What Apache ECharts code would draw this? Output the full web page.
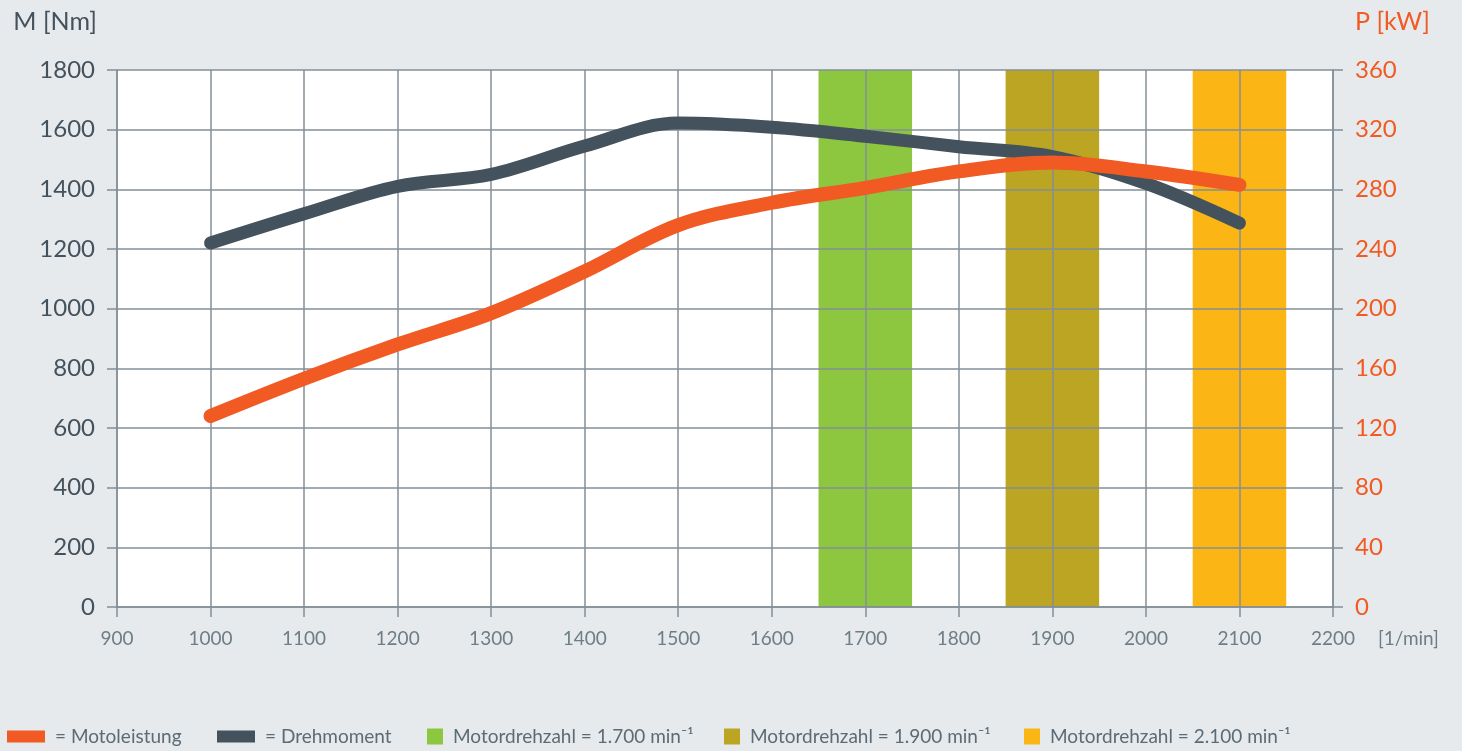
<!DOCTYPE html>
<html>
<head>
<meta charset="utf-8">
<script src="https://cdn.jsdelivr.net/npm/echarts@6/dist/echarts.min.js"></script>
<style>
  html, body { margin: 0; padding: 0; background: #e6eaed; }
  #chart { width: 1462px; height: 751px; }
</style>
</head>
<body>
<div id="chart"></div>
<script>
// engine speed [1/min]
var rpm = [1000, 1100, 1200, 1300, 1400, 1500, 1600, 1700, 1800, 1900, 2000, 2100];
// torque M [Nm]
var torque = [1220, 1318, 1410, 1450, 1545, 1622, 1608, 1578, 1543, 1510, 1420, 1287];
// power P [kW]
var power = [128, 153, 176, 197, 225, 256, 271, 281, 292, 298, 292, 283];
// highlighted speed bands
var bandNames = ['Motordrehzahl = 1.700 min⁻¹', 'Motordrehzahl = 1.900 min⁻¹', 'Motordrehzahl = 2.100 min⁻¹'];
var bandRanges = [[1650, 1750], [1850, 1950], [2050, 2150]];
var bandColors = ['#8dc63f', '#bca523', '#fbb615'];

var gridColor = '#838f97';
var font = 'Lato';
var plain = function (v) { return String(v); };

function pairs(xs, ys) {
    var res = [];
    for (var i = 0; i < xs.length; i++) res.push([xs[i], ys[i]]);
    return res;
}

var series = [];
for (var b = 0; b < bandNames.length; b++) {
    series.push({
        name: bandNames[b],
        type: 'line',
        data: [],
        z: 1,
        color: bandColors[b],
        itemStyle: { color: bandColors[b] },
        markArea: {
            silent: true,
            itemStyle: { color: bandColors[b], opacity: 1 },
            data: [[{ xAxis: bandRanges[b][0] }, { xAxis: bandRanges[b][1] }]]
        }
    });
}
series.push({
    name: 'Drehmoment',
    type: 'line',
    yAxisIndex: 0,
    z: 3,
    smooth: 0.35,
    symbol: 'none',
    color: '#43525c',
    lineStyle: { width: 13, color: '#43525c', cap: 'round', join: 'round' },
    data: pairs(rpm, torque)
});
series.push({
    name: 'Motoleistung',
    type: 'line',
    yAxisIndex: 1,
    z: 4,
    smooth: 0.35,
    symbol: 'none',
    color: '#f15a22',
    lineStyle: { width: 14, color: '#f15a22', cap: 'round', join: 'round' },
    data: pairs(rpm, power)
});

// one legend per entry so every item sits where it does in the original
var legendText = { color: '#5c6b75', fontSize: 19, fontFamily: font, padding: [0, 0, 0, 5] };
function legendItem(name, left, w, h, fmt) {
    return {
        left: left, top: 727, padding: 0,
        itemWidth: w, itemHeight: h,
        icon: 'rect', selectedMode: false,
        formatter: fmt || '{name}',
        textStyle: legendText,
        data: [name]
    };
}

var option = {
    backgroundColor: '#e6eaed',
    animation: false,
    textStyle: { fontFamily: font },
    grid: {
        left: 117, right: 129, top: 70, bottom: 144,
        show: true, backgroundColor: '#ffffff', borderWidth: 0, z: 0
    },
    xAxis: {
        type: 'value',
        min: 900, max: 2200, interval: 100,
        z: 2,
        name: '[1/min]',
        nameLocation: 'end',
        nameGap: 45,
        nameTextStyle: { color: '#6f7d86', fontSize: 19, fontFamily: font, verticalAlign: 'top', padding: [22, 0, 0, 0] },
        axisLine: { show: true, lineStyle: { color: gridColor, width: 1.5 } },
        axisTick: { show: true, length: 10, lineStyle: { color: gridColor, width: 1.5 } },
        axisLabel: { color: '#6f7d86', fontSize: 19, margin: 22, fontFamily: font, formatter: plain },
        splitLine: { show: true, lineStyle: { color: gridColor, width: 1.5 } }
    },
    yAxis: [{
        type: 'value',
        position: 'left',
        min: 0, max: 1800, interval: 200,
        z: 2,
        name: 'M [Nm]',
        nameLocation: 'end',
        nameGap: 48,
        nameTextStyle: { color: '#43525c', fontSize: 25, fontFamily: font, align: 'right', verticalAlign: 'middle', padding: [0, 20, 0, 0] },
        axisLine: { show: true, lineStyle: { color: gridColor, width: 1.5 } },
        axisTick: { show: true, length: 10, lineStyle: { color: gridColor, width: 1.5 } },
        axisLabel: { color: '#43525c', fontSize: 24, margin: 22, fontFamily: font, formatter: plain },
        splitLine: { show: true, lineStyle: { color: gridColor, width: 1.5 } }
    }, {
        type: 'value',
        position: 'right',
        min: 0, max: 360, interval: 40,
        z: 2,
        name: 'P [kW]',
        nameLocation: 'end',
        nameGap: 48,
        nameTextStyle: { color: '#f15a22', fontSize: 25, fontFamily: font, align: 'left', verticalAlign: 'middle', padding: [0, 0, 0, 22] },
        axisLine: { show: true, lineStyle: { color: gridColor, width: 1.5 } },
        axisTick: { show: true, length: 10, lineStyle: { color: gridColor, width: 1.5 } },
        axisLabel: { color: '#f15a22', fontSize: 24, margin: 22, fontFamily: font, formatter: plain },
        splitLine: { show: false }
    }],
    legend: [
        legendItem('Motoleistung', 7, 38, 12, '= {name}'),
        legendItem('Drehmoment', 217, 38, 12, '= {name}'),
        legendItem(bandNames[0], 427, 16, 16),
        legendItem(bandNames[1], 724, 16, 16),
        legendItem(bandNames[2], 1024, 16, 16)
    ],
    series: series
};

var chart = echarts.init(document.getElementById('chart'));
chart.setOption(option);
</script>
</body>
</html>
